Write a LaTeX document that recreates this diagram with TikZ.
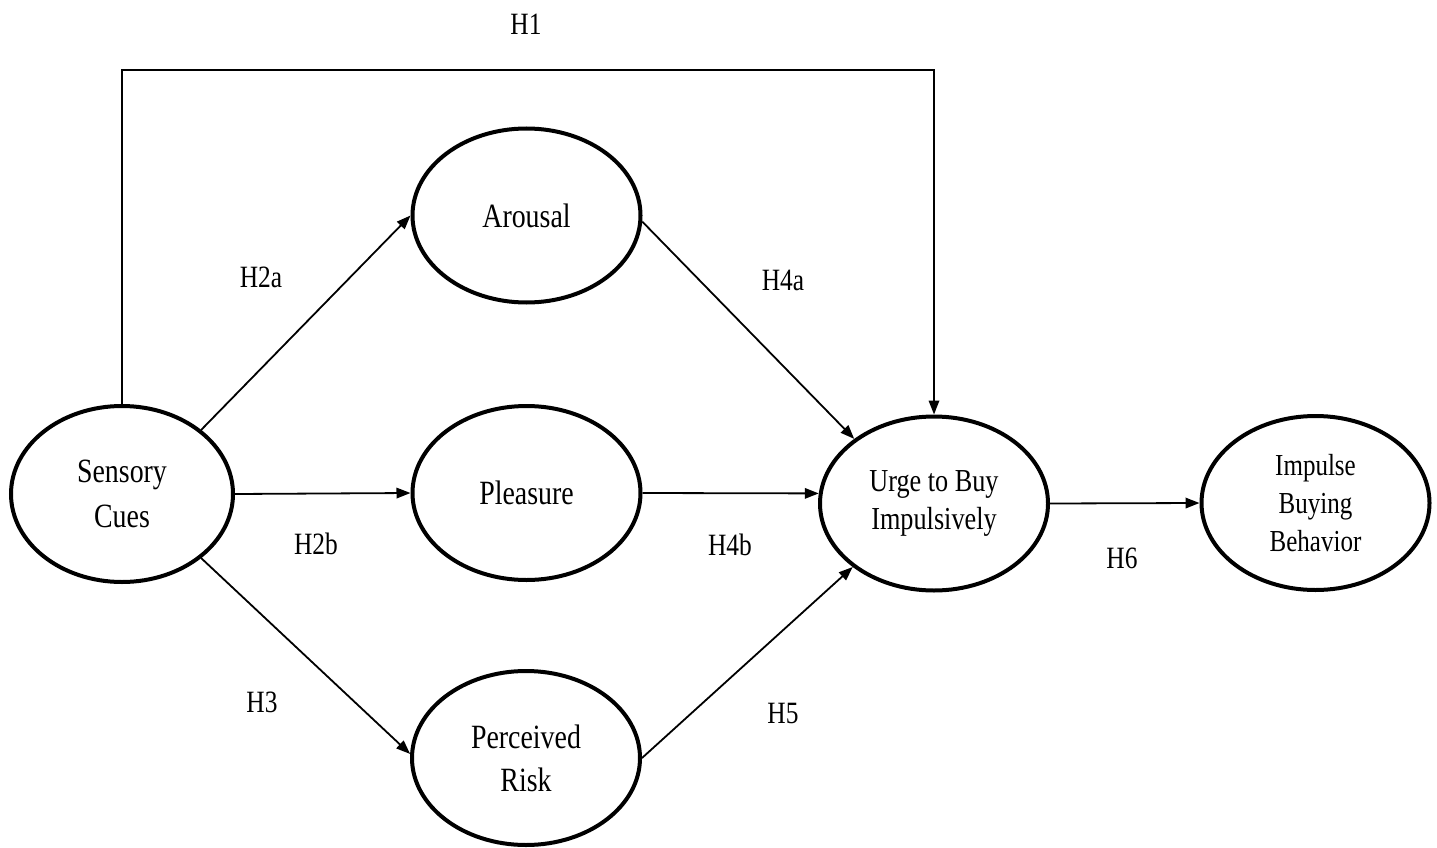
\documentclass[tikz,border=0pt]{standalone}
\usepackage{fontspec}
\setmainfont[FakeStretch=0.82]{Liberation Serif}
\usetikzlibrary{arrows.meta,shapes.geometric}
\begin{document}
\begin{tikzpicture}[x=1pt,y=-1pt,
  construct/.style={ellipse,draw,line width=4pt,minimum width=228pt,minimum height=174pt,
    inner sep=0pt,align=center,font=\fontsize{34}{38}\selectfont},
  path/.style={line width=1.8pt,-{Triangle[length=14pt,width=10.5pt]}},
  hyp/.style={font=\fontsize{31}{36}\selectfont,inner sep=0pt}]
\useasboundingbox (0,0) rectangle (1437,848);

% constructs
\node[construct,minimum width=222pt,minimum height=176pt,font=\fontsize{34}{45}\selectfont] (sc) at (122,494) {Sensory\\Cues};
\node[construct] (ar) at (526.5,215.5) {Arousal};
\node[construct] (pl) at (526.5,493) {Pleasure};
\node[construct,font=\fontsize{34}{43}\selectfont] (pr) at (526,758) {Perceived\\Risk};
\node[construct,font=\fontsize{32}{38}\selectfont] (ug) at (934,503.5) {Urge to Buy\\Impulsively};
\node[construct,font=\fontsize{30.5}{38}\selectfont] (ib) at (1315.5,503) {Impulse\\Buying\\Behavior};

% direct path H1 over the top
\coordinate (top) at (0,70);
\draw[path] (sc.north) -- (sc.north |- top) -| (ug.north);

% stimulus to organism
\draw[path] (sc.39.5) -- (ar.west);
\draw[path] (sc.east) -- (pl.west);
\draw[path] (sc.-39.5) -- (pr.178);

% organism to urge
\draw[path] (ar.-3) -- (ug.141);
\draw[path] (pl.east) -- (ug.175);
\draw[path] (pr.east) -- (ug.218);

% urge to behaviour
\draw[path] (ug.east) -- (ib.west);

% hypothesis labels
\node[hyp] (h1) at (526,24) {H1};
\node[hyp] (h2a) at (261,277) {H2a};
\node[hyp] (h2b) at (316,544) {H2b};
\node[hyp] (h3) at (262,702) {H3};
\node[hyp] (h4a) at (783,280) {H4a};
\node[hyp] (h4b) at (730,545) {H4b};
\node[hyp] (h5) at (783,713) {H5};
\node[hyp] (h6) at (1122,558) {H6};
\end{tikzpicture}
\end{document}
